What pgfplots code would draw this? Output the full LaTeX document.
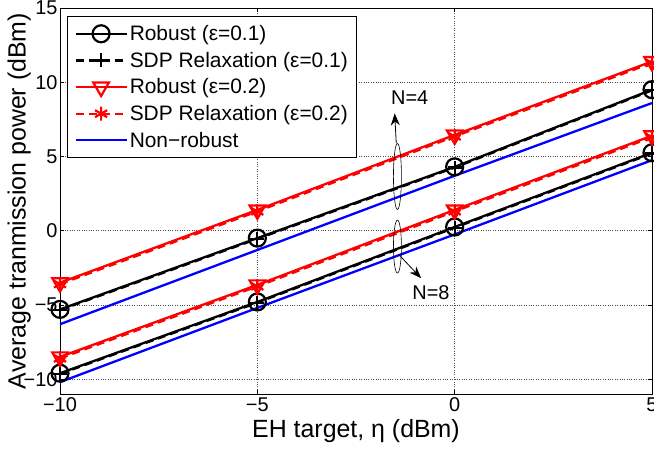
\documentclass[border=0pt]{standalone}
\usepackage{fontspec}
\setmainfont{Liberation Sans}
\usepackage{pgfplots}
\pgfplotsset{compat=1.18}
\usetikzlibrary{arrows.meta}
\newcommand{\fs}{\fontsize{20}{23}\selectfont}
\newcommand{\fl}{\fontsize{21}{24}\selectfont}
\newcommand{\fa}{\fontsize{25}{28}\selectfont}
\begin{document}
\begin{tikzpicture}
\begin{axis}[
  name=ax,
  scale only axis, width=592bp, height=386bp,
  xmin=-10, xmax=5, ymin=-11, ymax=15,
  xtick={-10,-5,0,5}, ytick={-10,-5,0,5,10,15},
  xticklabels={−10,−5,0,5},
  yticklabels={−10,−5,0,5,10,15},
  grid=major,
  major grid style={dotted, line width=0.7pt, black!70},
  tick align=inside, tick pos=both,
  major tick length=4bp,
  axis line style={line width=0.9pt},
  every tick/.style={black, line width=0.6pt},
  font=\fs,
  xticklabel style={font=\fs},
  yticklabel style={font=\fs, xshift=1bp},
  xlabel={EH target, η (dBm)},
  ylabel={Average tranmission power (dBm)},
  xlabel style={font=\fa, yshift=-1bp},
  ylabel style={font=\fa, yshift=-14bp},
  legend style={at={(7/592,1-8/386)}, anchor=north west, font=\fl,
     draw=black, line width=0.9pt, row sep=6bp, inner xsep=7bp, inner ysep=7bp},
  legend cell align=left,
  legend image code/.code={\draw[mark repeat=2,mark phase=2] plot coordinates {(0cm,0cm) (0.9cm,0cm) (1.8cm,0cm)};},
  every axis plot/.append style={line width=2.3bp},
]
% N=4
\addplot[black, mark=o, mark size=8.5bp, mark options={solid, line width=2.2bp}] coordinates {(-10,-5.3) (-5,-0.5) (0,4.3) (5,9.5)};
\addlegendentry{Robust (ε=0.1)}
\addplot[black, dash pattern=on 8bp off 5bp, mark=+, mark size=7bp, mark options={solid, line width=2.2bp}] coordinates {(-10,-5.35) (-5,-0.55) (0,4.25) (5,9.45)};
\addlegendentry{SDP Relaxation (ε=0.1)}
\addplot[red, mark=triangle, mark size=9bp, mark options={solid, rotate=180, line width=2.2bp}] coordinates {(-10,-3.5) (-5,1.4) (0,6.45) (5,11.4)};
\addlegendentry{Robust (ε=0.2)}
\addplot[red, dash pattern=on 8bp off 5bp, mark=asterisk, mark size=7bp, mark options={solid, line width=2.2bp}] coordinates {(-10,-3.6) (-5,1.3) (0,6.35) (5,11.3)};
\addlegendentry{SDP Relaxation (ε=0.2)}
\addplot[blue] coordinates {(-10,-6.3) (-5,-1.3) (0,3.7) (5,8.6)};
\addlegendentry{Non−robust}
% N=8
\addplot[black, mark=o, mark size=8.5bp, mark options={solid, line width=2.2bp}, forget plot] coordinates {(-10,-9.6) (-5,-4.8) (0,0.25) (5,5.25)};
\addplot[black, dash pattern=on 8bp off 5bp, mark=+, mark size=7bp, mark options={solid, line width=2.2bp}, forget plot] coordinates {(-10,-9.65) (-5,-4.85) (0,0.2) (5,5.2)};
\addplot[red, mark=triangle, mark size=9bp, mark options={solid, rotate=180, line width=2.2bp}, forget plot] coordinates {(-10,-8.5) (-5,-3.65) (0,1.4) (5,6.4)};
\addplot[red, dash pattern=on 8bp off 5bp, mark=asterisk, mark size=7bp, mark options={solid, line width=2.2bp}, forget plot] coordinates {(-10,-8.6) (-5,-3.75) (0,1.3) (5,6.3)};
\addplot[blue, forget plot] coordinates {(-10,-10.2) (-5,-5.2) (0,-0.25) (5,4.75)};
% annotations
\draw[line width=0.6pt] (axis cs:-1.45,3.65) ellipse [x radius=4bp, y radius=33bp];
\draw[line width=0.6pt] (axis cs:-1.45,-1.07) ellipse [x radius=4bp, y radius=26.5bp];
\draw[line width=0.8pt, -{Stealth[length=12bp, width=9bp]}] (axis cs:-1.48,5.9) -- (axis cs:-1.52,7.9);
\draw[line width=0.8pt, -{Stealth[length=12bp, width=9bp]}] (axis cs:-1.42,-1.6) -- (axis cs:-0.85,-3.2);
\node[font=\fs] at (axis cs:-1.14,8.94) {N=4};
\node[font=\fs] at (axis cs:-0.6,-4.2) {N=8};
\end{axis}
\pgfresetboundingbox
\path ([xshift=-60bp,yshift=-55bp]ax.south west) rectangle ([xshift=2bp,yshift=8bp]ax.north east);
\end{tikzpicture}
\end{document}
